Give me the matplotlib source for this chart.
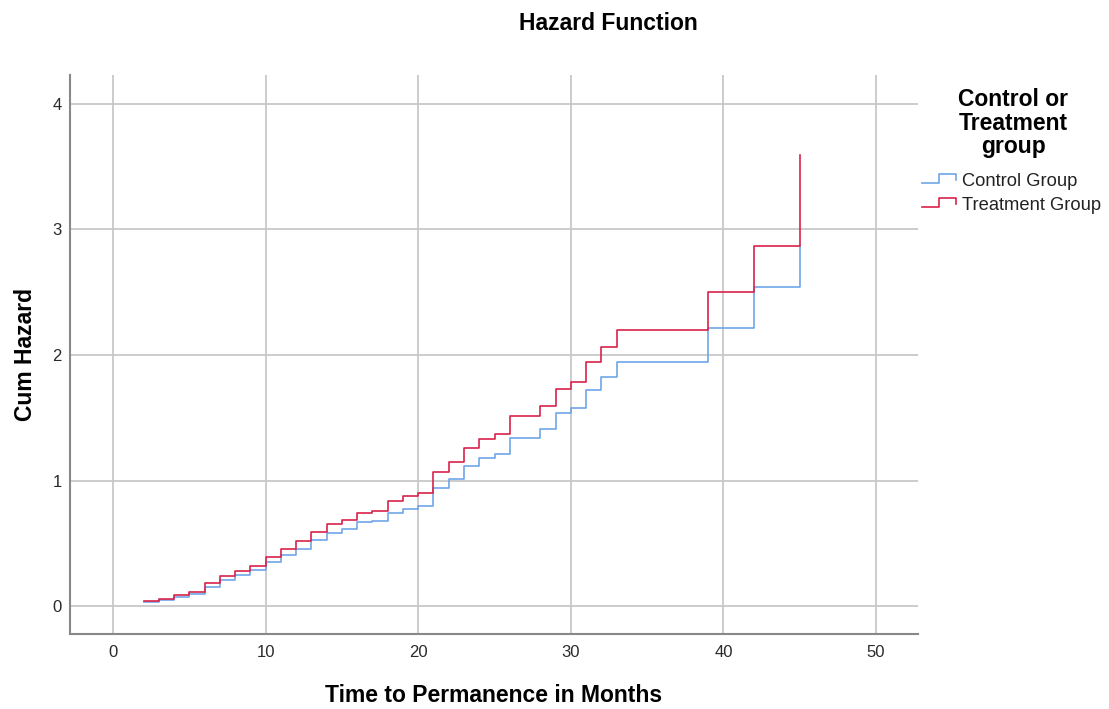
import matplotlib
matplotlib.use('Agg')
import matplotlib.pyplot as plt
from matplotlib.lines import Line2D

plt.rcParams['font.family'] = ['Liberation Sans', 'DejaVu Sans']

# event times (months) and cumulative hazard
times = [2, 3, 4, 5, 6, 7, 8, 9, 10, 11, 12, 13, 14, 15, 16, 17, 18, 19, 20,
         21, 22, 23, 24, 25, 26, 28, 29, 30, 31, 32, 33, 39, 42, 45]
control = [0.032, 0.048, 0.072, 0.096, 0.151, 0.207, 0.247, 0.287, 0.350, 0.405,
           0.457, 0.524, 0.579, 0.614, 0.669, 0.677, 0.739, 0.775, 0.797, 0.942,
           1.009, 1.116, 1.177, 1.211, 1.336, 1.408, 1.535, 1.575, 1.719, 1.827,
           1.947, 2.213, 2.544, 2.870]
treatment = [0.037, 0.058, 0.085, 0.109, 0.181, 0.241, 0.281, 0.321, 0.393, 0.456,
             0.518, 0.590, 0.654, 0.685, 0.744, 0.759, 0.835, 0.879, 0.903, 1.064,
             1.150, 1.256, 1.328, 1.368, 1.514, 1.596, 1.727, 1.787, 1.946, 2.064,
             2.199, 2.500, 2.871, 3.590]

groups = ['Control Group', 'Treatment Group']
colors = ['#6ea6e8', '#d9234b']
xticks = [0, 10, 20, 30, 40, 50]
yticks = [0, 1, 2, 3, 4]

W, H = 1109, 709
fig = plt.figure(figsize=(W / 100, H / 100), dpi=100)
ax = fig.add_axes([70 / W, 1 - 634 / H, (918 - 70) / W, (634 - 75) / H])

for y, c in zip([control, treatment], colors):
    ax.step(times, y, where='post', color=c, lw=1.2)

ax.set_xlim(-2.82, 52.75)
ax.set_ylim(-0.223, 4.231)
ax.set_xticks(xticks)
ax.set_yticks(yticks)
ax.grid(True, color='#c8c8c8', lw=1.3)
ax.set_axisbelow(True)
ax.tick_params(length=0, labelsize=12, labelcolor='#2a2a2a')
ax.tick_params(axis='x', pad=8)
ax.tick_params(axis='y', pad=6)
for s in ['top', 'right']:
    ax.spines[s].set_visible(False)
for s in ['left', 'bottom']:
    ax.spines[s].set_color('#888888')
    ax.spines[s].set_linewidth(1.5)

ax.set_xlabel('Time to Permanence in Months', fontsize=16.5, fontweight='bold', labelpad=17)
ax.set_ylabel('Cum Hazard', fontsize=16.5, fontweight='bold', labelpad=11)
fig.text(608 / W, 1 - 24 / H, 'Hazard Function', fontsize=16.5, fontweight='bold',
         ha='center', va='center')

# legend drawn by hand so the handles can be little steps
fig.text(1013 / W, 1 - 123 / H, 'Control or\nTreatment\ngroup', fontsize=16.5,
         fontweight='bold', ha='center', va='center', linespacing=1.05)
for i, (g, c) in enumerate(zip(groups, colors)):
    yc = 181 + i * 24
    xs = [922, 939, 939, 956, 956]
    ys = [yc + 2, yc + 2, yc - 7, yc - 7, yc - 1]
    fig.add_artist(Line2D([x / W for x in xs], [1 - v / H for v in ys],
                          color=c, lw=1.2, transform=fig.transFigure))
    fig.text(962 / W, 1 - (yc + 1) / H, g, fontsize=13.2, color='#222222',
             ha='left', va='center')

fig.savefig('out.png', dpi=100)
